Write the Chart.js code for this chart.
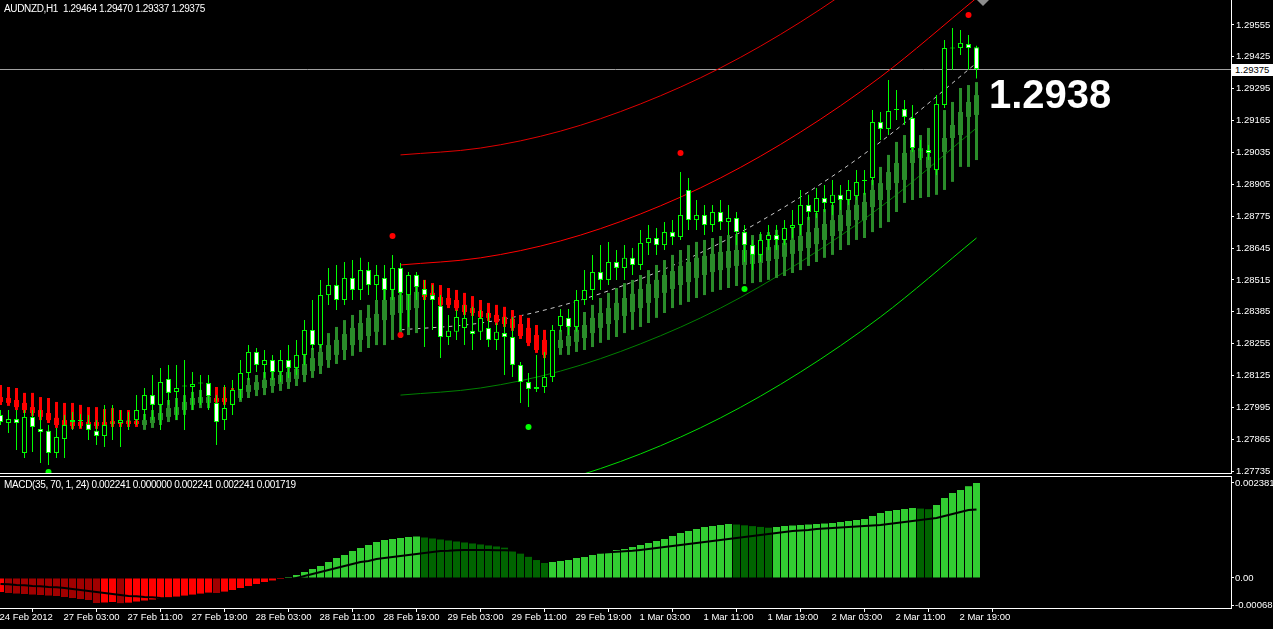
<!DOCTYPE html>
<html>
<head>
<meta charset="utf-8">
<title>AUDNZD,H1</title>
<script src="https://cdn.jsdelivr.net/npm/chart.js@4.4.1/dist/chart.umd.min.js"></script>
<style>
  html, body { margin: 0; padding: 0; background: #000; }
  #wrap { position: relative; width: 1273px; height: 629px; background: #000; overflow: hidden; }
  canvas { position: absolute; left: 0; }
  #mainChart { top: 0; }
  #macdChart { top: 476px; }
  .txt { position: absolute; color: #fff; font: 10px "Liberation Sans", Arial, sans-serif; white-space: pre; letter-spacing: -0.35px; z-index: 2; }
  #bigPrice { left: 989px; top: 74px; font: bold 40px "Liberation Sans", Arial, sans-serif; line-height: 40px; letter-spacing: 0; }
  #bidBox { left: 1232px; top: 64px; width: 41px; height: 12px; line-height: 12px; background: #fff; color: #000; padding-left: 3px; box-sizing: border-box; font-size: 9.5px; letter-spacing: 0; }
</style>
</head>
<body>
<div id="wrap">
  <canvas id="mainChart" width="1273" height="474"></canvas>
  <canvas id="macdChart" width="1273" height="153"></canvas>
  <div class="txt" style="left:4px;top:3px">AUDNZD,H1  1.29464 1.29470 1.29337 1.29375</div>
  <div class="txt" style="left:4px;top:479px">MACD(35, 70, 1, 24) 0.002241 0.000000 0.002241 0.002241 0.001719</div>
  <div class="txt" id="bigPrice">1.2938</div>
  <div class="txt" id="bidBox">1.29375</div>
</div>
<script>
// H1 candles, 24 Feb 19:00 .. 2 Mar 21:00 (one entry per bar)
const OPEN = [
  1.27964,1.27931,1.27947,1.27809,1.27956,1.27907,1.27899,1.27809,1.27866,1.27935,
  1.27943,1.27927,1.27899,1.27878,1.27931,1.27931,1.27939,1.27943,1.27984,1.28045,
  1.28005,1.28111,1.28058,1.28082,1.28078,1.28094,1.28094,1.28013,1.27943,1.28005,
  1.28066,1.28135,1.28221,1.28168,1.28188,1.28139,1.28188,1.28156,1.28209,1.28311,
  1.28249,1.28453,1.28494,1.28433,1.28523,1.28474,1.28555,1.28494,1.28523,1.28474,
  1.28564,1.28453,1.28535,1.28478,1.28453,1.28409,1.28282,1.28303,1.28319,1.28307,
  1.28303,1.28319,1.28270,1.28298,1.28282,1.28168,1.28098,1.28078,1.28078,1.28119,
  1.28327,1.28360,1.28323,1.28433,1.28474,1.28547,1.28515,1.28588,1.28564,1.28605,
  1.28576,1.28666,1.28686,1.28657,1.28710,1.28690,1.28882,1.28759,1.28780,1.28739,
  1.28792,1.28751,1.28768,1.28710,1.28657,1.28617,1.28678,1.28698,1.28678,1.28727,
  1.28739,1.28821,1.28792,1.28849,1.28829,1.28862,1.28841,1.28857,1.28918,1.28931,
  1.29159,1.29131,1.29208,1.29212,1.29176,1.29045,1.29045,1.28963,1.29229,1.29461,
  1.29461,1.29477,1.29464
];
const HIGH = [
  1.27984,1.27984,1.27984,1.27984,1.27984,1.27984,1.27923,1.27911,1.27964,1.27976,
  1.27968,1.27964,1.27943,1.28005,1.28005,1.27984,1.27976,1.28045,1.28074,1.28127,
  1.28156,1.28168,1.28168,1.28188,1.28139,1.28127,1.28127,1.28045,1.28086,1.28107,
  1.28188,1.28249,1.28237,1.28229,1.28209,1.28229,1.28249,1.28270,1.28351,1.28433,
  1.28515,1.28564,1.28576,1.28588,1.28596,1.28605,1.28588,1.28576,1.28576,1.28617,
  1.28584,1.28547,1.28547,1.28515,1.28494,1.28453,1.28372,1.28392,1.28413,1.28405,
  1.28392,1.28380,1.28339,1.28364,1.28364,1.28180,1.28135,1.28209,1.28221,1.28331,
  1.28396,1.28396,1.28474,1.28555,1.28617,1.28657,1.28670,1.28637,1.28657,1.28645,
  1.28719,1.28739,1.28727,1.28751,1.28759,1.28955,1.28931,1.28841,1.28821,1.28821,
  1.28841,1.28821,1.28792,1.28739,1.28678,1.28710,1.28739,1.28739,1.28759,1.28800,
  1.28882,1.28862,1.28890,1.28902,1.28923,1.28902,1.28923,1.28963,1.28963,1.29208,
  1.29200,1.29331,1.29290,1.29249,1.29229,1.29086,1.29065,1.29269,1.29494,1.29543,
  1.29535,1.29514,1.29470
];
const LOW = [
  1.27923,1.27890,1.27821,1.27788,1.27813,1.27768,1.27760,1.27788,1.27788,1.27903,
  1.27911,1.27862,1.27841,1.27833,1.27862,1.27833,1.27903,1.27923,1.27943,1.27943,
  1.27903,1.28005,1.27943,1.27903,1.27984,1.28005,1.27984,1.27841,1.27903,1.27964,
  1.28025,1.28107,1.28139,1.28115,1.28107,1.28098,1.28115,1.28127,1.28168,1.28229,
  1.28237,1.28413,1.28392,1.28413,1.28433,1.28433,1.28453,1.28433,1.28433,1.28433,
  1.28311,1.28323,1.28433,1.28241,1.28311,1.28196,1.28249,1.28270,1.28249,1.28229,
  1.28270,1.28241,1.28229,1.28127,1.28119,1.28013,1.27996,1.28058,1.28054,1.28098,
  1.28303,1.28290,1.28303,1.28413,1.28433,1.28474,1.28494,1.28515,1.28515,1.28535,
  1.28555,1.28617,1.28617,1.28637,1.28657,1.28678,1.28719,1.28719,1.28698,1.28710,
  1.28719,1.28698,1.28657,1.28588,1.28555,1.28588,1.28637,1.28637,1.28657,1.28686,
  1.28698,1.28759,1.28768,1.28792,1.28780,1.28800,1.28821,1.28841,1.28862,1.28902,
  1.29086,1.29106,1.29167,1.29147,1.29037,1.29004,1.29004,1.28943,1.29216,1.29371,
  1.29433,1.29371,1.29337
];
const CLOSE = [
  1.27935,1.27947,1.27931,1.27956,1.27915,1.27894,1.27809,1.27874,1.27923,1.27943,
  1.27939,1.27903,1.27878,1.27923,1.27929,1.27943,1.27937,1.27984,1.28045,1.28005,
  1.28098,1.28054,1.28074,1.28080,1.28090,1.28092,1.28041,1.27935,1.27992,1.28066,
  1.28135,1.28221,1.28168,1.28188,1.28139,1.28188,1.28156,1.28209,1.28311,1.28249,
  1.28453,1.28494,1.28433,1.28523,1.28474,1.28555,1.28494,1.28535,1.28474,1.28564,
  1.28462,1.28535,1.28486,1.28453,1.28433,1.28282,1.28307,1.28364,1.28360,1.28294,
  1.28360,1.28270,1.28303,1.28282,1.28168,1.28098,1.28070,1.28070,1.28119,1.28311,
  1.28368,1.28323,1.28433,1.28474,1.28547,1.28515,1.28588,1.28564,1.28605,1.28576,
  1.28666,1.28686,1.28657,1.28710,1.28690,1.28780,1.28759,1.28780,1.28739,1.28792,
  1.28751,1.28768,1.28710,1.28657,1.28617,1.28678,1.28698,1.28678,1.28727,1.28739,
  1.28821,1.28792,1.28849,1.28829,1.28862,1.28841,1.28882,1.28914,1.28923,1.29159,
  1.29131,1.29204,1.29212,1.29180,1.29053,1.29043,1.29033,1.29233,1.29461,1.29459,
  1.29482,1.29461,1.29375
];

// smoothed bars indicator (green when close > open, red otherwise)
const SM_OPEN = [
  1.28037,1.28033,1.28025,1.28013,1.27996,1.27984,1.27972,1.27952,1.27943,1.27935,
  1.27935,1.27935,1.27935,1.27935,1.27939,1.27939,1.27939,1.27939,1.27923,1.27931,
  1.27943,1.27956,1.27964,1.27984,1.28005,1.28013,1.28013,1.28033,1.28033,1.28037,
  1.28033,1.28058,1.28066,1.28074,1.28082,1.28090,1.28098,1.28111,1.28127,1.28143,
  1.28164,1.28188,1.28209,1.28229,1.28249,1.28270,1.28286,1.28303,1.28351,1.28372,
  1.28380,1.28392,1.28400,1.28474,1.28462,1.28445,1.28441,1.28433,1.28413,1.28400,
  1.28388,1.28380,1.28372,1.28364,1.28356,1.28335,1.28319,1.28290,1.28270,1.28262,
  1.28237,1.28245,1.28262,1.28278,1.28298,1.28319,1.28335,1.28351,1.28368,1.28384,
  1.28400,1.28421,1.28441,1.28462,1.28478,1.28494,1.28506,1.28523,1.28535,1.28547,
  1.28555,1.28564,1.28572,1.28576,1.28580,1.28584,1.28592,1.28600,1.28609,1.28621,
  1.28633,1.28645,1.28661,1.28678,1.28694,1.28714,1.28735,1.28759,1.28759,1.28812,
  1.28841,1.28882,1.28910,1.28923,1.28992,1.29012,1.28972,1.28972,1.29037,1.29094,
  1.29106,1.29180,1.29188
];
const SM_CLOSE = [
  1.28017,1.28013,1.27996,1.27984,1.27972,1.27956,1.27943,1.27923,1.27923,1.27919,
  1.27919,1.27919,1.27919,1.27923,1.27927,1.27927,1.27927,1.27927,1.27943,1.27956,
  1.27972,1.27992,1.27996,1.28017,1.28033,1.28037,1.28037,1.28017,1.28017,1.28021,
  1.28066,1.28086,1.28098,1.28107,1.28115,1.28127,1.28139,1.28152,1.28172,1.28196,
  1.28221,1.28249,1.28270,1.28294,1.28319,1.28339,1.28360,1.28376,1.28433,1.28445,
  1.28453,1.28462,1.28466,1.28445,1.28445,1.28413,1.28413,1.28400,1.28384,1.28380,
  1.28364,1.28360,1.28343,1.28335,1.28319,1.28286,1.28258,1.28229,1.28209,1.28209,
  1.28270,1.28286,1.28311,1.28331,1.28360,1.28380,1.28400,1.28421,1.28441,1.28458,
  1.28478,1.28498,1.28515,1.28535,1.28551,1.28572,1.28588,1.28605,1.28613,1.28621,
  1.28629,1.28633,1.28637,1.28637,1.28637,1.28641,1.28649,1.28657,1.28666,1.28678,
  1.28694,1.28710,1.28727,1.28743,1.28759,1.28780,1.28800,1.28821,1.28833,1.28882,
  1.28910,1.28955,1.28992,1.29033,1.29045,1.29053,1.29017,1.29033,1.29094,1.29147,
  1.29200,1.29241,1.29269
];
const SM_HIGH = [
  1.28086,1.28078,1.28074,1.28054,1.28054,1.28037,1.28033,1.28017,1.28013,1.28013,
  1.28005,1.27996,1.27996,1.27988,1.27992,1.27984,1.27984,1.27980,1.27968,1.27984,
  1.28005,1.28025,1.28033,1.28045,1.28058,1.28066,1.28066,1.28078,1.28078,1.28074,
  1.28086,1.28115,1.28127,1.28139,1.28147,1.28160,1.28172,1.28188,1.28213,1.28237,
  1.28270,1.28298,1.28323,1.28351,1.28372,1.28392,1.28413,1.28433,1.28474,1.28486,
  1.28494,1.28502,1.28506,1.28515,1.28502,1.28494,1.28482,1.28474,1.28462,1.28449,
  1.28433,1.28421,1.28413,1.28405,1.28392,1.28372,1.28360,1.28331,1.28311,1.28290,
  1.28311,1.28331,1.28360,1.28384,1.28413,1.28441,1.28462,1.28482,1.28502,1.28515,
  1.28535,1.28555,1.28576,1.28596,1.28617,1.28637,1.28657,1.28670,1.28678,1.28686,
  1.28694,1.28698,1.28702,1.28702,1.28698,1.28702,1.28710,1.28719,1.28727,1.28739,
  1.28755,1.28772,1.28788,1.28804,1.28821,1.28841,1.28849,1.28862,1.28870,1.28923,
  1.28976,1.29025,1.29078,1.29106,1.29135,1.29106,1.29135,1.29176,1.29208,1.29241,
  1.29298,1.29310,1.29322
];
const SM_LOW = [
  1.28005,1.28001,1.27984,1.27972,1.27960,1.27943,1.27931,1.27911,1.27911,1.27907,
  1.27907,1.27907,1.27907,1.27911,1.27915,1.27915,1.27915,1.27915,1.27903,1.27911,
  1.27923,1.27935,1.27943,1.27964,1.27984,1.27992,1.27992,1.28005,1.28005,1.28009,
  1.28017,1.28033,1.28041,1.28045,1.28054,1.28062,1.28070,1.28082,1.28098,1.28115,
  1.28131,1.28156,1.28172,1.28188,1.28205,1.28221,1.28237,1.28249,1.28249,1.28270,
  1.28278,1.28290,1.28298,1.28433,1.28433,1.28400,1.28400,1.28388,1.28372,1.28368,
  1.28351,1.28347,1.28331,1.28323,1.28307,1.28274,1.28245,1.28217,1.28196,1.28196,
  1.28209,1.28209,1.28221,1.28229,1.28241,1.28258,1.28270,1.28282,1.28298,1.28311,
  1.28323,1.28339,1.28360,1.28380,1.28400,1.28413,1.28425,1.28441,1.28453,1.28466,
  1.28474,1.28482,1.28490,1.28498,1.28502,1.28506,1.28515,1.28523,1.28531,1.28543,
  1.28555,1.28572,1.28588,1.28605,1.28617,1.28637,1.28657,1.28678,1.28686,1.28710,
  1.28727,1.28751,1.28792,1.28829,1.28841,1.28849,1.28853,1.28862,1.28882,1.28915,
  1.28976,1.28976,1.29004
];

// fractal-like dots
const RED_DOT_BARS = [49, 50, 85, 121];
const RED_DOT_PRICES = [1.28694, 1.28290, 1.29033, 1.29596];
const GREEN_DOT_BARS = [6, 66, 93];
const GREEN_DOT_PRICES = [1.27731, 1.27915, 1.28478];

// regression channel, read at these bars
const CHANNEL_BARS = [50, 60, 70, 80, 90, 100, 110, 122];
const CH_OUTER_UP = [1.29025, 1.29053, 1.29122, 1.29233, 1.29380, 1.29567, 1.29792, 1.30114];
const CH_INNER_UP = [1.28576, 1.28605, 1.28674, 1.28784, 1.28931, 1.29118, 1.29343, 1.29665];
const CH_MID      = [1.28311, 1.28339, 1.28409, 1.28519, 1.28666, 1.28853, 1.29078, 1.29400];
const CH_INNER_DN = [1.28045, 1.28074, 1.28143, 1.28254, 1.28400, 1.28588, 1.28812, 1.29135];
const CH_OUTER_DN = [1.27597, 1.27625, 1.27695, 1.27805, 1.27952, 1.28139, 1.28364, 1.28686];

// MACD(35,70,1,24)
const MACD_HIST = [
  -0.000351,-0.000376,-0.000390,-0.000401,-0.000415,-0.000426,-0.000440,-0.000451,-0.000476,-0.000501,
  -0.000526,-0.000551,-0.000627,-0.000614,-0.000601,-0.000630,-0.000618,-0.000590,-0.000565,-0.000540,
  -0.000515,-0.000490,-0.000466,-0.000441,-0.000416,-0.000391,-0.000366,-0.000376,-0.000341,-0.000301,
  -0.000251,-0.000200,-0.000150,-0.000100,-0.000062,-0.000025,0.000025,0.000075,0.000150,0.000226,
  0.000301,0.000401,0.000501,0.000576,0.000677,0.000752,0.000827,0.000902,0.000952,0.000977,
  0.001002,0.001027,0.001040,0.001015,0.000990,0.000965,0.000940,0.000915,0.000890,0.000865,
  0.000840,0.000815,0.000790,0.000760,0.000690,0.000610,0.000530,0.000450,0.000376,0.000401,
  0.000426,0.000451,0.000501,0.000526,0.000576,0.000627,0.000652,0.000702,0.000727,0.000777,
  0.000827,0.000877,0.000927,0.000977,0.001053,0.001128,0.001178,0.001228,0.001278,0.001303,
  0.001328,0.001353,0.001340,0.001320,0.001300,0.001280,0.001260,0.001278,0.001303,0.001315,
  0.001328,0.001340,0.001353,0.001365,0.001378,0.001403,0.001428,0.001453,0.001479,0.001554,
  0.001629,0.001679,0.001704,0.001729,0.001754,0.001740,0.001725,0.001829,0.002005,0.002130,
  0.002205,0.002300,0.002381
];
const MACD_SIGNAL = [
  -0.000150,-0.000155,-0.000175,-0.000180,-0.000200,-0.000205,-0.000226,-0.000230,-0.000251,-0.000276,
  -0.000301,-0.000326,-0.000351,-0.000376,-0.000401,-0.000426,-0.000451,-0.000460,-0.000476,-0.000485,
  -0.000501,-0.000505,-0.000505,-0.000501,-0.000495,-0.000476,-0.000451,-0.000426,-0.000401,-0.000376,
  -0.000326,-0.000301,-0.000251,-0.000200,-0.000150,-0.000100,-0.000050,0.000000,0.000050,0.000100,
  0.000150,0.000200,0.000251,0.000301,0.000351,0.000401,0.000426,0.000476,0.000501,0.000526,
  0.000551,0.000576,0.000601,0.000627,0.000652,0.000677,0.000680,0.000695,0.000700,0.000702,
  0.000702,0.000700,0.000698,0.000695,0.000690,0.000680,0.000672,0.000660,0.000652,0.000648,
  0.000640,0.000635,0.000632,0.000630,0.000630,0.000632,0.000645,0.000655,0.000668,0.000680,
  0.000702,0.000727,0.000752,0.000777,0.000802,0.000827,0.000852,0.000877,0.000902,0.000927,
  0.000952,0.000977,0.001002,0.001027,0.001053,0.001078,0.001103,0.001128,0.001153,0.001178,
  0.001190,0.001203,0.001228,0.001240,0.001253,0.001265,0.001278,0.001290,0.001303,0.001315,
  0.001328,0.001353,0.001378,0.001403,0.001428,0.001453,0.001479,0.001504,0.001554,0.001604,
  0.001654,0.001704,0.001719
];

const BID = 1.29375;
const PRICE_TICKS = [1.27735,1.27865,1.27995,1.28125,1.28255,1.28385,1.28515,1.28645,
                     1.28775,1.28905,1.29035,1.29165,1.29295,1.29425,1.29555];
const MACD_TICKS = [-0.00068, 0, 0.002381];
const MACD_TICK_LABELS = ['-0.00068', '0.00', '0.002381'];
const TIME_TICK_BARS = [0, 8, 16, 24, 32, 40, 48, 56, 64, 72, 80, 88, 96, 104, 112, 120];
const TIME_TICK_LABELS = ['24 Feb 2012', '27 Feb 03:00', '27 Feb 11:00', '27 Feb 19:00', '28 Feb 03:00',
  '28 Feb 11:00', '28 Feb 19:00', '29 Feb 03:00', '29 Feb 11:00', '29 Feb 19:00', '1 Mar 03:00',
  '1 Mar 11:00', '1 Mar 19:00', '2 Mar 03:00', '2 Mar 11:00', '2 Mar 19:00'];

Chart.defaults.font.family = '"Liberation Sans", Arial, sans-serif';
Chart.defaults.font.size = 9.5;
Chart.defaults.color = '#ffffff';

// 8 px per bar, chart area ends at x=1231
const X_MIN = -0.0625, X_MAX = 153.8125;
const bars = OPEN.map((v, i) => i);

const LIME = '#00ff00';
const SM_GREEN = '#2a8c2a';
const SM_RED = '#ff0000';

function barSet(label, data, colors, thick, order, extra) {
    return Object.assign({
        type: 'bar', label: label, data: data,
        backgroundColor: colors, borderWidth: 0, barThickness: thick,
        grouped: false, inflateAmount: 0, order: order
    }, extra || {});
}

function curve(label, values, color, order, dash) {
    return {
        type: 'line', label: label,
        data: CHANNEL_BARS.map((b, k) => ({ x: b, y: values[k] })),
        borderColor: color, borderWidth: 1, borderDash: dash || [],
        pointRadius: 0, cubicInterpolationMode: 'monotone', order: order
    };
}

const smColor = bars.map(i => SM_CLOSE[i] > SM_OPEN[i] ? SM_GREEN : SM_RED);

const mainDecor = {
    id: 'mainDecor',
    beforeDatasetsDraw(chart) {
        const { ctx, chartArea: a, scales: { y } } = chart;
        const yb = Math.round(y.getPixelForValue(BID)) + 0.5;
        ctx.save();
        ctx.strokeStyle = '#a0a0a0';
        ctx.lineWidth = 1;
        ctx.beginPath();
        ctx.moveTo(a.left, yb);
        ctx.lineTo(a.right, yb);
        ctx.stroke();
        ctx.restore();
    },
    afterDraw(chart) {
        const { ctx, chartArea: a } = chart;
        ctx.save();
        ctx.strokeStyle = '#ffffff';
        ctx.lineWidth = 1;
        ctx.beginPath();
        ctx.moveTo(a.left, a.bottom - 0.5);
        ctx.lineTo(a.right + 1, a.bottom - 0.5);
        ctx.stroke();
        // chart shift marker
        ctx.fillStyle = '#8c8c8c';
        ctx.beginPath();
        ctx.moveTo(977, 0);
        ctx.lineTo(989, 0);
        ctx.lineTo(983, 6);
        ctx.closePath();
        ctx.fill();
        ctx.restore();
    }
};

new Chart(document.getElementById('mainChart'), {
    type: 'bar',
    data: {
        datasets: [
            { type: 'line', label: 'red dots', showLine: false, order: -1,
              data: RED_DOT_BARS.map((b, k) => ({ x: b, y: RED_DOT_PRICES[k] })),
              pointRadius: 3, pointBackgroundColor: '#ff0000', pointBorderWidth: 0 },
            { type: 'line', label: 'green dots', showLine: false, order: -1,
              data: GREEN_DOT_BARS.map((b, k) => ({ x: b, y: GREEN_DOT_PRICES[k] })),
              pointRadius: 3, pointBackgroundColor: '#00ff00', pointBorderWidth: 0 },
            barSet('body', bars.map(i => ({ x: i, y: [OPEN[i], CLOSE[i]] })),
                   bars.map(i => CLOSE[i] > OPEN[i] ? '#000000' : '#ffffff'), 5, 1,
                   { borderColor: LIME, borderWidth: 1, borderSkipped: false, minBarLength: 1 }),
            barSet('wick', bars.map(i => ({ x: i, y: [LOW[i], HIGH[i]] })), LIME, 1, 2),
            barSet('sm body', bars.map(i => ({ x: i, y: [SM_OPEN[i], SM_CLOSE[i]] })), smColor, 5, 3,
                   { minBarLength: 2 }),
            barSet('sm wick', bars.map(i => ({ x: i, y: [SM_LOW[i], SM_HIGH[i]] })), smColor, 3, 4),
            curve('outer up', CH_OUTER_UP, '#e00000', 5),
            curve('inner up', CH_INNER_UP, '#ff0000', 5),
            curve('mid', CH_MID, '#c8c8c8', 5, [4, 4]),
            curve('inner dn', CH_INNER_DN, '#008000', 5),
            curve('outer dn', CH_OUTER_DN, '#00dd00', 5)
        ]
    },
    options: {
        responsive: false,
        animation: false,
        events: [],
        layout: { padding: 0, autoPadding: false },
        plugins: { legend: { display: false }, tooltip: { enabled: false } },
        scales: {
            x: {
                type: 'linear', min: X_MIN, max: X_MAX, offset: false, display: false,
                afterFit: s => { s.paddingLeft = 0; s.paddingRight = 0; }
            },
            y: {
                type: 'linear', position: 'right', bounds: 'data',
                min: 1.27723, max: 1.29657,
                afterBuildTicks: s => { s.ticks = PRICE_TICKS.map(v => ({ value: v })); },
                afterFit: s => { s.width = 42; s.paddingTop = 0; s.paddingBottom = 0; },
                ticks: { color: '#ffffff', padding: 2, callback: v => v.toFixed(5) },
                grid: { drawOnChartArea: false, color: '#ffffff', tickLength: 3 },
                border: { color: '#ffffff' }
            }
        }
    },
    plugins: [mainDecor]
});

// MACD window
const histColors = bars.map(i => {
    const v = MACD_HIST[i];
    const prev = i > 0 ? MACD_HIST[i - 1] : v;
    const rising = v >= prev;
    if (v >= 0) return rising ? '#32cd32' : '#006400';
    return rising ? '#ff0000' : '#a00000';
});

const macdDecor = {
    id: 'macdDecor',
    afterDraw(chart) {
        const { ctx, chartArea: a } = chart;
        ctx.save();
        ctx.strokeStyle = '#ffffff';
        ctx.lineWidth = 1;
        ctx.beginPath();
        ctx.moveTo(a.left, a.top - 0.5);
        ctx.lineTo(a.right + 1, a.top - 0.5);
        ctx.stroke();
        ctx.restore();
    }
};

new Chart(document.getElementById('macdChart'), {
    type: 'bar',
    data: {
        datasets: [
            { type: 'line', label: 'signal', order: 0,
              data: bars.map(i => ({ x: i, y: MACD_SIGNAL[i] })),
              borderColor: '#000000', borderWidth: 2, pointRadius: 0, tension: 0 },
            barSet('macd', bars.map(i => ({ x: i, y: MACD_HIST[i] })), histColors, 7, 1)
        ]
    },
    options: {
        responsive: false,
        animation: false,
        events: [],
        layout: { padding: { top: 1, left: 0, right: 0, bottom: 0 }, autoPadding: false },
        plugins: { legend: { display: false }, tooltip: { enabled: false } },
        scales: {
            x: {
                type: 'linear', min: X_MIN, max: X_MAX, offset: false,
                afterBuildTicks: s => { s.ticks = TIME_TICK_BARS.map(v => ({ value: v })); },
                afterFit: s => { s.height = 21; s.paddingLeft = 0; s.paddingRight = 0; },
                ticks: { color: '#ffffff', autoSkip: false, maxRotation: 0, align: 'start',
                         labelOffset: -1, padding: 0, callback: (v, i) => TIME_TICK_LABELS[i] },
                grid: { drawOnChartArea: false, color: '#ffffff', tickLength: 4 },
                border: { color: '#ffffff' }
            },
            y: {
                type: 'linear', position: 'right', bounds: 'data',
                min: -0.000752, max: 0.002531,
                afterBuildTicks: s => { s.ticks = MACD_TICKS.map(v => ({ value: v })); },
                afterFit: s => { s.width = 42; s.paddingTop = 0; s.paddingBottom = 0; },
                ticks: { color: '#ffffff', padding: 1, callback: (v, i) => MACD_TICK_LABELS[i] },
                grid: { drawOnChartArea: false, color: '#ffffff', tickLength: 3 },
                border: { color: '#ffffff' }
            }
        }
    },
    plugins: [macdDecor]
});
</script>
</body>
</html>
